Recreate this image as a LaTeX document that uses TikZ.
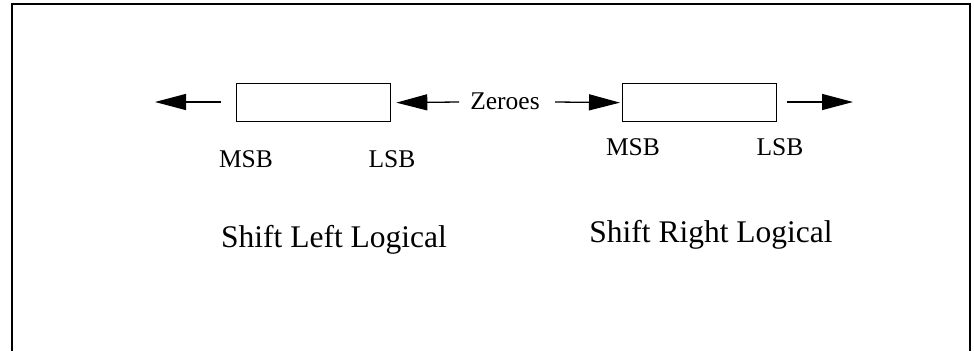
\documentclass[tikz,border=0pt]{standalone}
\usepackage{fontspec}
\setmainfont{Liberation Serif}
\usetikzlibrary{arrows.meta}
\begin{document}
\begin{tikzpicture}[x=1pt,y=-1pt,
  regbox/.style={draw,line width=1.3pt,minimum width=154pt,minimum height=38pt,inner sep=0pt,anchor=north west},
  lbl/.style={font=\fontsize{25.5}{28}\selectfont,inner sep=0pt,anchor=base},
  titletext/.style={font=\fontsize{31.5}{34}\selectfont,inner sep=0pt,anchor=base},
  shiftarrow/.style={line width=1.3pt,-{Triangle[length=31pt,width=16pt]}}]
\useasboundingbox (0,0) rectangle (974,351);
% open frame (no bottom edge)
\draw[line width=2pt] (12,351) -- (12,4) -- (970,4) -- (970,351);
% registers
\node[regbox] (sll) at (236,83) {};
\node[regbox] (srl) at (622,83) {};
% labels
\node[lbl] (zero) at (505,109) {Zeroes};
\node[lbl] (msb1) at (246,167) {MSB};
\node[lbl] (lsb1) at (392,167) {LSB};
\node[lbl] (msb2) at (633,155) {MSB};
\node[lbl] (lsb2) at (780,155) {LSB};
\node[titletext] (t1) at (334,247) {Shift Left Logical};
\node[titletext] (t2) at (711,242) {Shift Right Logical};
% arrow end points
\coordinate (outl) at (155,102);
\coordinate (outls) at (221,102);
\coordinate (zl) at (459,102);
\coordinate (zr) at (555,102);
\coordinate (outrs) at (787,102);
\coordinate (outr) at (853,102);
\draw[shiftarrow] (outls) -- (outl);
\draw[shiftarrow] (zl) -- ([xshift=5pt]sll.east);
\draw[shiftarrow] (zr) -- ([xshift=-2pt]srl.west);
\draw[shiftarrow] (outrs) -- (outr);
\end{tikzpicture}
\end{document}
